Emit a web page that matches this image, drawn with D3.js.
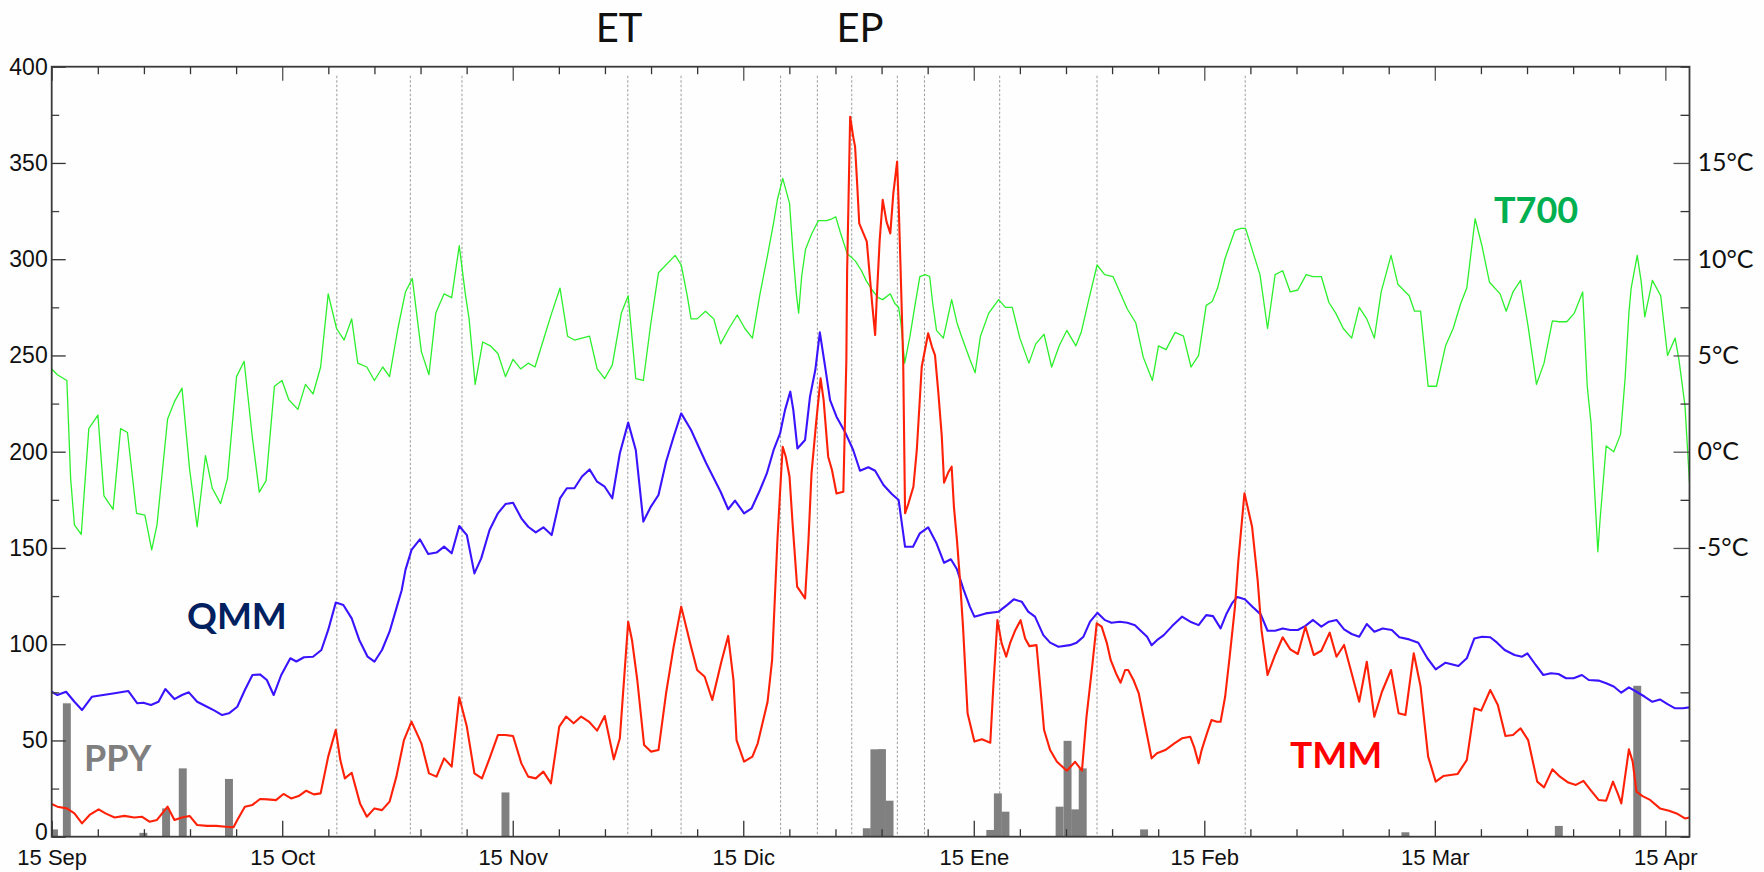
<!DOCTYPE html>
<html>
<head>
<meta charset="utf-8">
<script src="https://cdn.jsdelivr.net/npm/d3@7"></script>
<style>
  html, body { margin: 0; padding: 0; background: #fefefe; }
  svg { display: block; }
</style>
</head>
<body>
<svg id="chart" width="1764" height="872"></svg>
<script>
// ---- data -------------------------------------------------------------
// x values are days counted from 15 Sep (months drawn with equal width)
const monthLabels = ["15 Sep", "15 Oct", "15 Nov", "15 Dic", "15 Ene", "15 Feb", "15 Mar", "15 Apr"];
const daysPerMonth = 30.43;

const leftTickValues = [0, 50, 100, 150, 200, 250, 300, 350, 400];
const rightTickValues = [-5, 0, 5, 10, 15];

// dates marked with dotted vertical lines
const eventDays = [37.64, 47.34, 54.16, 76.05, 83.08, 96.22, 101.07, 105.61, 111.63, 115.21, 125.14, 137.99, 157.55];

// QMM, daily mean flow (left axis)
const qmm = [
  [0,75.3],[0.75,73.6],[1.9,75.3],[3.0,70.1],[4.0,65.8],[5.3,72.7],[6.8,73.6],[8.3,74.5],[10.1,75.7],[11.3,69.3],
  [12.1,69.6],[13.1,68.4],[14.1,70.1],[15.0,76.7],[16.2,71.5],[17.2,73.6],[18.1,75],[19.2,70.1],[20.5,67.5],[21.5,65.5],
  [22.5,63.2],[23.4,64.1],[24.5,67.5],[25.5,76.2],[26.5,84],[27.5,84.3],[28.4,81.4],[29.3,73.6],[30.3,84],[31.5,92.7],
  [32.3,91],[33.3,93.2],[34.5,93.5],[35.6,97],[36.5,107.4],[37.5,121.6],[38.5,120.4],[39.6,113.4],[40.6,102.2],[41.7,93.5],
  [42.6,90.9],[43.6,97],[44.6,106.5],[45.5,118.6],[46.2,128],[46.7,138.6],[47.5,149],[48.6,154.5],[49.7,146.9],[50.8,147.6],
  [51.8,150.7],[52.8,147.2],[53.8,161.4],[54.8,156.7],[55.8,136.8],[56.7,144.6],[57.8,159.3],[58.9,168],[59.9,172.8],[60.9,173.5],
  [62.0,165.4],[62.9,161],[63.9,158.1],[64.9,160.7],[66.0,156.7],[67.1,175.8],[68.0,181],[69.0,181],[70.0,187.1],[71.0,190.8],
  [72.0,184.4],[73.0,181.8],[74.0,175.8],[75.0,199.2],[76.1,215.1],[77.1,200.9],[78.1,163.7],[79.1,171.5],[80.1,177.5],[81.1,194.8],
  [82.1,207.8],[83.1,219.9],[84.4,211.3],[85.4,202.6],[86.4,194],[87.4,186.2],[88.3,179.2],[89.3,170.1],[90.2,174.6],[91.4,168],
  [92.4,170.6],[93.5,180.1],[94.4,188.7],[95.3,200.9],[96.15,209.5],[96.8,221.6],[97.5,231.2],[97.9,221.6],[98.44,201.7],[99.45,206.1],
  [100.1,228.6],[100.8,242.4],[101.4,262],[102.1,244.1],[102.75,226.8],[103.6,218.2],[104.7,210.4],[105.8,200.9],[106.7,190.1],[107.8,191.9],
  [108.7,190.1],[109.8,182.7],[110.9,178],[111.8,174.9],[112.65,150.6],[113.7,150.6],[114.6,157.6],[115.7,160.7],[116.8,152.4],[117.8,142.3],
  [118.7,144.1],[119.5,138.9],[120.4,128.1],[121.2,119.5],[121.8,114.3],[123.3,116],[125.0,116.9],[126.1,120.3],[127.0,123.3],[128.05,122.1],
  [128.9,116.9],[129.8,114.3],[130.9,104.7],[131.8,100.8],[132.9,98.7],[134.4,99.5],[135.3,100.8],[136.2,103.9],[137.07,111.7],[138.04,116.3],
  [139.05,112.5],[139.9,111.1],[141.0,111.7],[142.0,111.1],[143.0,109.9],[143.9,106.5],[144.6,103.9],[145.2,99.5],[145.9,102.1],[146.8,104.7],
  [147.9,109.4],[149.2,114.3],[150.3,111.7],[151.4,109.9],[152.4,115.1],[153.3,114.6],[154.3,108.2],[155.1,116],[155.8,121.2],[156.5,124.5],
  [157.5,123.3],[158.5,119.5],[159.6,115.5],[160.5,107],[161.5,107],[162.5,108.2],[163.5,107.4],[164.5,107.4],[165.5,109.5],[166.5,112.6],
  [167.6,109.1],[168.6,111.7],[169.6,112.6],[170.6,107.7],[171.6,105.3],[172.6,103.9],[173.6,110.5],[174.6,106.5],[175.7,108.2],[176.9,107.4],
  [177.9,103.6],[179.2,102.5],[180.4,100.8],[181.6,92.7],[182.7,86.9],[184.0,90.4],[185.7,88.7],[186.8,92.7],[187.8,103],[188.8,103.9],
  [189.9,103.6],[190.8,100.8],[191.8,97],[193.1,94.4],[194.1,93.5],[194.8,95.2],[195.9,89.2],[196.9,84],[197.9,84.9],[198.9,84.5],
  [199.9,82.3],[200.9,82.3],[202.0,84],[202.9,81.4],[204.2,81.1],[205.2,79.7],[206.2,78],[207.2,74.8],[208.2,77.6],[209.2,75.3],
  [210.3,72.7],[211.3,70.1],[212.3,71.3],[213.3,68.9],[214.3,66.7],[215.3,66.7],[216.2,67.2]
];

// TMM (left axis)
const tmm = [
  [0,17],[0.75,15.6],[2.0,14.7],[3.0,12.1],[4.0,6.9],[5.0,11.3],[6.2,14.2],[7.1,12.1],[8.3,10.0],[9.6,10.8],
  [10.9,10.0],[11.9,10.4],[12.9,7.8],[13.9,8.7],[15.3,15.6],[16.2,8.7],[17.2,10.0],[18.2,10.8],[19.2,6.1],[20.5,5.6],
  [21.7,5.6],[23.0,5.2],[24.0,4.9],[24.5,8.7],[25.5,15.6],[26.5,16.5],[27.5,19.6],[28.5,19.4],[29.6,19.0],[30.6,22.2],
  [31.6,19.9],[32.6,21.1],[33.6,23.9],[34.6,22.0],[35.5,22.5],[36.5,41.6],[37.5,55.5],[38.1,39.8],[38.7,30.3],[39.6,33.2],
  [40.7,17.3],[41.6,10.4],[42.6,14.7],[43.6,13.8],[44.6,18.2],[45.5,31.2],[46.5,50.2],[47.5,59.8],[48.8,48.5],[49.8,32.9],
  [50.8,31.2],[51.8,40.7],[52.8,36.4],[53.8,72.4],[54.8,57.2],[55.8,32.9],[56.8,30.3],[57.8,40.7],[58.9,52.8],[59.9,52.8],
  [60.9,52.3],[62.0,38.1],[62.9,31.2],[63.9,30.3],[64.9,33.8],[65.9,27.7],[67.0,57.2],[67.9,62.4],[68.9,58.9],[69.9,62.4],
  [70.9,59.8],[72.0,55.1],[73.0,62.7],[74.2,40.2],[75.0,51.1],[76.1,111.7],[76.6,102.2],[77.3,81.4],[78.2,47.6],[79.1,44.2],
  [80.1,45.0],[81.1,74.5],[82.1,98.7],[83.1,119.5],[84.4,98.7],[85.2,86.6],[86.2,83.1],[87.2,71.0],[88.4,90.9],[89.3,104.3],
  [90.0,81.4],[90.4,50.2],[91.4,39.0],[92.5,41.6],[93.2,48.5],[94.5,70.1],[95.1,91.8],[95.8,154.1],[96.24,185.3],[96.5,202.6],
  [96.9,197.4],[97.4,187],[97.8,162.8],[98.4,129.9],[99.45,123.8],[99.9,154.1],[100.3,188.7],[100.9,214.7],[101.5,238.1],[101.9,226.8],
  [102.5,197.4],[103.0,190.5],[103.6,178.3],[104.5,179.2],[104.9,247.6],[105.0,293.5],[105.4,374],[105.8,363.7],[106.05,358.5],[106.3,341.1],
  [106.6,318.6],[107.15,313.4],[107.6,309.1],[108.0,290.9],[108.3,277.1],[108.7,260.6],[108.9,278.8],[109.3,310],[109.7,330.8],[110.2,319.5],
  [110.7,313.4],[111.1,334.2],[111.6,350.7],[111.8,329],[112.0,303],[112.2,275.3],[112.4,247.6],[112.65,168],[113.1,173.2],[113.75,181.8],
  [114.2,200.9],[114.85,244.1],[115.7,261.5],[116.2,254.5],[116.6,250.2],[117.05,230.3],[117.5,207.8],[117.8,183.9],[118.4,189.6],[118.8,192.2],
  [119.1,171.4],[119.5,154.1],[119.9,133.3],[120.3,109],[120.9,64.1],[121.8,49.4],[122.8,50.6],[123.9,48.8],[124.3,77.9],[124.84,112.5],
  [125.4,100.4],[126.0,93.5],[126.5,100.4],[127.2,107.3],[127.9,112.5],[128.5,103],[129.06,99],[130.0,99.5],[130.5,77.9],[131.0,55.4],
  [131.8,45],[132.7,38.9],[134.0,34.3],[135.1,38.9],[136.0,34.3],[136.6,62.3],[137.3,86.6],[137.95,110.8],[138.6,109.1],[139.3,100.4],
  [139.8,91.7],[140.5,84.8],[141.1,80],[141.7,86.6],[142.1,86.6],[142.8,81.4],[143.5,74.4],[144.2,60.6],[145.2,40.7],[145.9,43.3],
  [147.0,45],[148.2,48.5],[149.2,51.1],[150.3,51.9],[150.8,46.7],[151.4,38.1],[151.8,45],[152.5,53.7],[153.1,60.6],[153.8,59.7],
  [154.3,59.7],[154.9,72.7],[155.5,93.5],[156.2,119.5],[156.65,143.7],[157.45,178.4],[158.46,161],[159.2,133],[159.7,107.4],[160.5,84],
  [161.5,94.4],[162.5,103.6],[163.5,97.3],[164.5,94.9],[165.5,109.1],[166.6,94.4],[167.6,96.6],[168.7,106],[169.6,93.5],[170.6,99.6],
  [171.6,84.9],[172.6,70.1],[173.6,90.9],[174.6,62.3],[175.6,75.3],[176.8,86.6],[177.8,64.1],[178.7,63.2],[179.8,95.3],[180.7,78],
  [181.7,41.6],[182.7,28.6],[183.7,31.5],[185.6,32.6],[186.8,39.8],[187.8,66.7],[188.7,65.5],[189.9,76.2],[190.9,68.4],[191.9,52.3],
  [192.9,52.8],[193.9,56.3],[194.9,50.2],[196.1,28.6],[197.0,25.6],[198.1,35],[199.1,31.2],[200.2,28.1],[201.2,26.9],[202.2,29],
  [203.2,23.9],[204.2,19.1],[205.2,18.7],[206.1,28.6],[206.8,21.7],[207.2,17.3],[208.2,45.4],[208.7,39],[209.2,23.4],[210.0,21.1],
  [211.0,19.1],[212.3,14.7],[213.5,13.5],[214.5,12.1],[215.6,9.5],[216.2,10]
];

// T700, air temperature at 700 hPa in °C (right axis)
const t700 = [
  [0,4.3],[0.75,4.0],[2.0,3.7],[2.5,-1.4],[3.0,-3.8],[3.9,-4.3],[4.9,1.2],[6.1,1.9],[6.9,-2.3],[8.1,-3.0],
  [9.1,1.2],[10.0,1.0],[11.2,-3.2],[12.3,-3.3],[13.2,-5.1],[13.9,-3.8],[15.3,1.7],[16.2,2.6],[17.2,3.3],[18.2,-0.9],
  [19.2,-3.9],[20.3,-0.2],[21.2,-1.9],[22.3,-2.7],[23.2,-1.4],[24.4,3.9],[25.4,4.7],[26.5,0.7],[27.4,-2.1],[28.3,-1.5],
  [29.4,3.4],[30.4,3.7],[31.3,2.7],[32.5,2.2],[33.5,3.5],[34.5,3.0],[35.5,4.4],[36.5,8.2],[37.6,6.4],[38.6,5.8],
  [39.6,6.9],[40.4,4.6],[41.6,4.4],[42.6,3.7],[43.7,4.4],[44.6,3.9],[45.7,6.4],[46.7,8.3],[47.6,9.0],[48.8,5.2],
  [49.8,4.0],[50.7,7.2],[51.8,8.2],[52.8,8.0],[53.8,10.7],[54.6,8.2],[55.1,6.9],[55.9,3.5],[56.9,5.7],[57.9,5.5],
  [58.9,5.1],[59.9,3.9],[60.9,4.8],[61.9,4.3],[62.9,4.6],[63.8,4.4],[64.9,5.8],[66.0,7.2],[67.1,8.5],[68.1,6.0],
  [69.0,5.8],[70.0,5.9],[71.0,6.0],[72.0,4.3],[73.0,3.8],[74.0,4.5],[75.2,7.2],[76.1,8.1],[77.1,3.8],[78.1,3.7],
  [79.1,6.7],[80.1,9.3],[82.3,10.2],[83.1,9.7],[83.9,8.1],[84.4,6.9],[85.2,6.9],[86.3,7.3],[87.4,6.9],[88.3,5.6],
  [89.4,6.4],[90.5,7.1],[91.5,6.4],[92.5,5.9],[93.5,8.2],[94.4,10.0],[95.3,11.9],[95.8,13.1],[96.5,14.2],[97.4,12.9],
  [97.9,10.1],[98.3,8.2],[98.6,7.2],[99.0,9.1],[99.5,10.5],[100.3,11.3],[101.2,12.0],[102.3,12.0],[103.0,12.1],[103.5,12.2],
  [104.1,11.4],[105.0,10.3],[106.1,9.9],[106.9,9.4],[107.5,8.9],[108.3,8.4],[109.1,8.0],[109.7,7.9],[110.7,8.2],[111.3,7.7],
  [111.8,7.5],[112.1,6.7],[112.6,4.6],[113.3,6.0],[114.0,7.7],[114.6,9.1],[115.3,9.2],[115.9,9.1],[116.3,7.7],[116.8,6.3],
  [117.7,5.9],[118.8,7.9],[119.5,6.7],[120.1,6.0],[121.2,4.8],[121.9,4.1],[122.6,6.0],[123.7,7.2],[125.0,7.9],[125.9,7.5],
  [126.8,7.5],[127.8,5.9],[129.0,4.6],[129.9,5.6],[131.0,6.1],[132.0,4.4],[133.0,5.5],[134.0,6.3],[135.2,5.5],[135.9,6.2],
  [136.9,7.9],[138.0,9.7],[139.0,9.2],[140.1,9.1],[141.0,8.3],[142.0,7.4],[143.1,6.7],[144.1,4.9],[145.3,3.7],[146.1,5.5],
  [147.1,5.3],[148.3,6.2],[149.4,6.0],[150.4,4.4],[151.4,5.0],[152.4,7.6],[153.2,7.8],[153.9,8.5],[154.9,10.05],[156.2,11.5],
  [157.0,11.6],[157.6,11.6],[158.7,10.2],[159.5,9.2],[160.5,6.4],[161.5,9.2],[162.5,9.4],[163.5,8.3],[164.5,8.4],[165.6,9.2],
  [166.5,9.1],[167.6,9.1],[168.6,7.75],[169.5,7.2],[170.5,6.4],[171.6,5.9],[172.6,7.5],[173.6,6.9],[174.6,5.9],[175.5,8.3],
  [176.8,10.2],[177.7,8.7],[178.7,8.3],[179.2,8.1],[179.9,7.3],[180.7,7.3],[181.7,3.4],[182.8,3.4],[184.0,5.5],[185.0,6.4],
  [186.0,7.7],[186.8,8.5],[187.9,12.1],[188.8,10.7],[189.8,8.8],[191.2,8.2],[192.0,7.3],[192.9,8.3],[193.9,8.9],[194.9,6.5],
  [196.0,3.5],[197.0,4.6],[198.1,6.8],[199.0,6.75],[200.0,6.75],[201.0,7.2],[202.1,8.3],[202.7,3.4],[203.2,1.5],[204.1,-5.2],
  [204.4,-3.5],[205.2,0.3],[206.2,0.0],[207.1,0.9],[207.7,3.8],[208.2,7.2],[208.5,8.5],[209.3,10.2],[209.8,8.9],[210.3,7.0],
  [211.3,8.9],[212.4,8.1],[213.3,5.0],[214.3,5.9],[214.8,4.8],[215.6,2.4],[216.2,-1.6]
];

// PPY, daily precipitation (left axis): [day, value]
const ppy = [
  [0.3,3.8],[2.0,69.3],[12.1,2.0],[15.1,14.7],[17.3,35.5],[23.4,30],[59.9,23],
  [107.6,4.4],[108.6,45.4],[109.6,45.5],[110.6,18.7],
  [123.9,3.5],[124.9,22.5],[125.9,13],
  [133.05,15.6],[134.1,49.8],[135.1,14.2],[136.1,35.5],
  [144.2,3.8],[178.7,2.3],[198.95,5.6],[209.3,78.4]
];

// ---- layout -----------------------------------------------------------
const plot = { left: 51.7, right: 1689.5, top: 66.7, bottom: 836.7 };
const dayMax = 216.2;

const svg = d3.select("#chart");

const x = d3.scaleLinear().domain([0, dayMax]).range([plot.left, plot.right]);
const y = d3.scaleLinear().domain([0, 400]).range([plot.bottom, plot.top]);
const yT = d3.scaleLinear().domain([-20, 20]).range([plot.bottom, plot.top]);

const monthDays = monthLabels.map((_, i) => i * daysPerMonth);
const minorDays = d3.range(0, dayMax, daysPerMonth / 5).filter(d => !monthDays.some(m => Math.abs(m - d) < 0.5));
const leftMinor = d3.range(25, 400, 50);
const rightMinor = d3.range(-20, 20.01, 2.5).filter(v => !rightTickValues.includes(v));

svg.append("defs").append("clipPath").attr("id", "plotclip")
  .append("rect")
  .attr("x", plot.left).attr("y", plot.top)
  .attr("width", plot.right - plot.left).attr("height", plot.bottom - plot.top);

// dotted event lines
svg.append("g").selectAll("line").data(eventDays).join("line")
  .attr("x1", d => x(d)).attr("x2", d => x(d))
  .attr("y1", plot.top + 9).attr("y2", plot.bottom - 2)
  .attr("stroke", "#9c9c9c").attr("stroke-width", 1).attr("stroke-dasharray", "2.5,2");

// precipitation bars
const barW = x(1.05) - x(0);
svg.append("g").attr("clip-path", "url(#plotclip)")
  .selectAll("rect").data(ppy).join("rect")
  .attr("x", d => x(d[0]) - barW / 2)
  .attr("y", d => y(d[1]))
  .attr("width", barW)
  .attr("height", d => y(0) - y(d[1]))
  .attr("fill", "#808080");

// series lines
const lineL = d3.line().x(d => x(d[0])).y(d => y(d[1]));
const lineT = d3.line().x(d => x(d[0])).y(d => yT(d[1]));

const lines = svg.append("g").attr("clip-path", "url(#plotclip)").attr("fill", "none")
  .attr("stroke-linejoin", "round");
lines.append("path").datum(t700).attr("d", lineT).attr("stroke", "#2cf02c").attr("stroke-width", 1.3);
lines.append("path").datum(qmm).attr("d", lineL).attr("stroke", "#3a14ff").attr("stroke-width", 2.1);
lines.append("path").datum(tmm).attr("d", lineL).attr("stroke", "#ff2008").attr("stroke-width", 2.1);

// ---- axes -------------------------------------------------------------
const tickFont = "'Liberation Sans', Arial, sans-serif";

function styleAxis(g, color) {
  g.select(".domain").remove();
  g.selectAll(".tick line").attr("stroke", color).attr("stroke-width", 1.3);
}

// left axis
svg.append("g").attr("transform", `translate(${plot.left},0)`)
  .call(d3.axisLeft(y).tickValues(leftTickValues).tickSize(-14).tickPadding(4))
  .call(g => styleAxis(g, "#333"))
  .call(g => g.selectAll("text").attr("font-family", tickFont).attr("font-size", 23).attr("fill", "#111"))
  // lift the "0" a little so it clears the first date label
  .call(g => g.selectAll(".tick").filter(d => d === 0).select("text").attr("y", -5));
svg.append("g").attr("transform", `translate(${plot.left},0)`)
  .call(d3.axisLeft(y).tickValues(leftMinor).tickSize(-7.5).tickFormat(""))
  .call(g => styleAxis(g, "#444"));

// right axis (temperature)
svg.append("g").attr("transform", `translate(${plot.right},0)`)
  .call(d3.axisRight(yT).tickValues(rightTickValues).tickSize(-16).tickPadding(8).tickFormat(d => d + "°C"))
  .call(g => styleAxis(g, "#555"))
  .call(g => g.selectAll("text").attr("font-family", "Lato, 'Open Sans', sans-serif").attr("font-size", 25).attr("fill", "#111"));
svg.append("g").attr("transform", `translate(${plot.right},0)`)
  .call(d3.axisRight(yT).tickValues(rightMinor).tickSize(-9).tickFormat(""))
  .call(g => styleAxis(g, "#333"));

// bottom axis
svg.append("g").attr("transform", `translate(0,${plot.bottom})`)
  .call(d3.axisBottom(x).tickValues(monthDays).tickSize(-16).tickPadding(13).tickFormat((d, i) => monthLabels[i]))
  .call(g => styleAxis(g, "#333"))
  .call(g => g.selectAll("text").attr("font-family", tickFont).attr("font-size", 22).attr("fill", "#111"));
svg.append("g").attr("transform", `translate(0,${plot.bottom})`)
  .call(d3.axisBottom(x).tickValues(minorDays).tickSize(-7.5).tickFormat(""))
  .call(g => styleAxis(g, "#333"));

// top axis
svg.append("g").attr("transform", `translate(0,${plot.top})`)
  .call(d3.axisTop(x).tickValues(monthDays).tickSize(-14).tickFormat(""))
  .call(g => styleAxis(g, "#555"));
svg.append("g").attr("transform", `translate(0,${plot.top})`)
  .call(d3.axisTop(x).tickValues(minorDays).tickSize(-7.5).tickFormat(""))
  .call(g => styleAxis(g, "#333"));

// frame
svg.append("rect")
  .attr("x", plot.left).attr("y", plot.top)
  .attr("width", plot.right - plot.left).attr("height", plot.bottom - plot.top)
  .attr("fill", "none").attr("stroke", "#3a3a3a").attr("stroke-width", 1.8);

// ---- labels -----------------------------------------------------------
const labelFont = "Lato, 'Open Sans', sans-serif";

svg.append("text").attr("x", 619).attr("y", 41.5).attr("text-anchor", "middle")
  .attr("font-family", labelFont).attr("font-size", 40).attr("fill", "#111").text("ET");
svg.append("text").attr("x", 860).attr("y", 41.5).attr("text-anchor", "middle")
  .attr("font-family", labelFont).attr("font-size", 40).attr("fill", "#111").text("EP");

const seriesLabels = [
  { text: "T700", x: 1494, y: 223, color: "#00b050", size: 36 },
  { text: "QMM", x: 187, y: 629, color: "#002060", size: 37 },
  { text: "PPY", x: 84, y: 771, color: "#7f7f7f", size: 36 },
  { text: "TMM", x: 1290, y: 768, color: "#ff0000", size: 37 }
];
svg.append("g").selectAll("text").data(seriesLabels).join("text")
  .attr("x", d => d.x).attr("y", d => d.y)
  .attr("font-family", labelFont).attr("font-weight", 700)
  .attr("font-size", d => d.size).attr("fill", d => d.color)
  .text(d => d.text);
</script>
</body>
</html>
